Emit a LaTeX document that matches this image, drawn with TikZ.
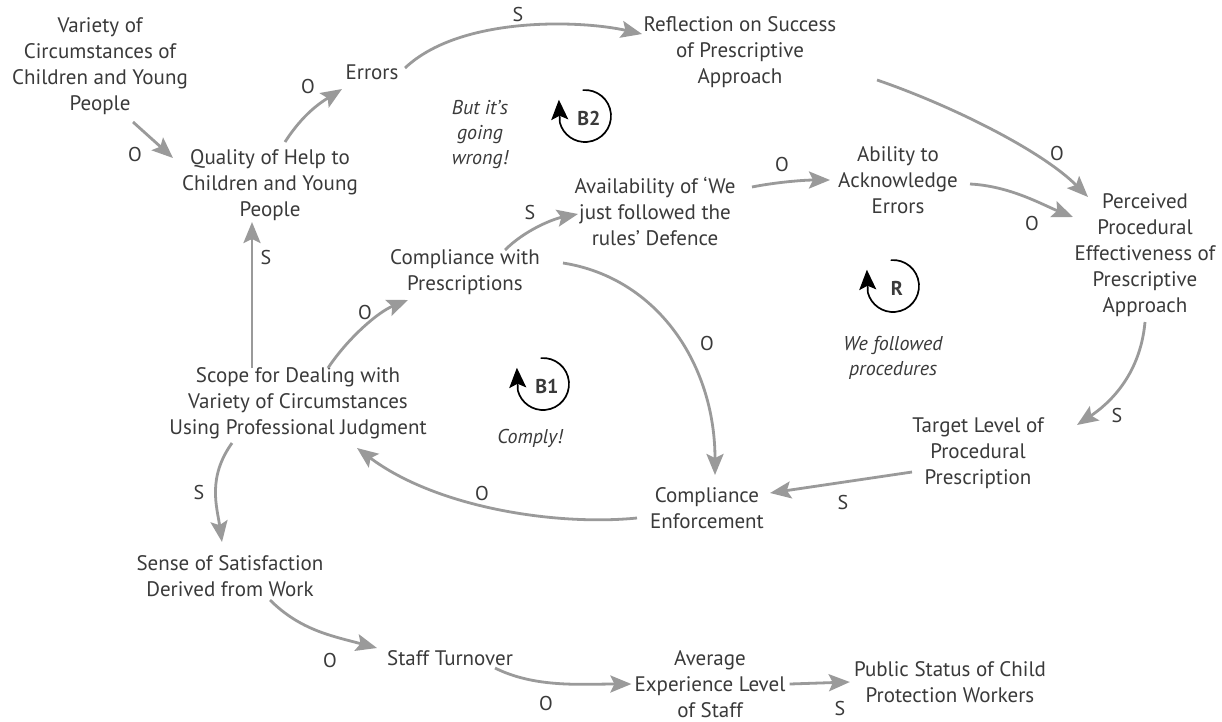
\documentclass[tikz,border=0pt]{standalone}
\usepackage{fontspec}
\setmainfont{PT Sans}
\usetikzlibrary{arrows.meta,calc}
\definecolor{txt}{HTML}{3A3A3A}
\definecolor{arrc}{HTML}{9A9A9A}
\begin{document}
\begin{tikzpicture}[x=1pt,y=-1pt,
  varbox/.style={align=center,text=txt,font=\fontsize{21}{26}\selectfont,inner sep=0pt},
  pol/.style={text=txt,font=\fontsize{20}{26}\selectfont,inner sep=0pt},
  note/.style={align=center,text=txt,font=\fontsize{20}{25}\selectfont\itshape,inner sep=0pt},
  conn/.style={draw=arrc,line width=2.8pt,-{Stealth[length=21pt,width=17pt,inset=4pt]}},
  loopsym/.style={draw=black,line width=1.7pt,-{Stealth[length=20pt,width=17pt,inset=4pt]}},
  looplab/.style={text=txt,font=\fontsize{20}{24}\selectfont\bfseries,inner sep=0pt}]
\useasboundingbox[fill=white] (0,0) rectangle (1222,721);

% variables
\node[varbox] (var) at (100,66) {Variety of\\Circumstances of\\Children and Young\\People};
\node[varbox] (qual) at (270,185) {Quality of Help to\\Children and Young\\People};
\node[varbox] (err) at (372,72) {Errors};
\node[varbox] (refl) at (740,52) {Reflection on Success\\of Prescriptive\\Approach};
\node[varbox] (avail) at (655,211) {Availability of `We\\just followed the\\rules' Defence};
\node[varbox] (abil) at (898,180) {Ability to\\Acknowledge\\Errors};
\node[varbox] (perc) at (1145,255) {Perceived\\Procedural\\Effectiveness of\\Prescriptive\\Approach};
\node[varbox] (comp) at (465,272) {Compliance with\\Prescriptions};
\node[varbox] (scope) at (298,403) {Scope for Dealing with\\Variety of Circumstances\\Using Professional Judgment};
\node[varbox] (target) at (978,453) {Target Level of\\Procedural\\Prescription};
\node[varbox] (enf) at (707,508) {Compliance\\Enforcement};
\node[varbox] (sat) at (230,576) {Sense of Satisfaction\\Derived from Work};
\node[varbox] (turn) at (450,658) {Staff Turnover};
\node[varbox] (avg) at (710,684) {Average\\Experience Level\\of Staff};
\node[varbox] (pub) at (950,682) {Public Status of Child\\Protection Workers};

% loop notes
\node[note] (nb2) at (480,135) {But it's\\going\\wrong!};
\node[note] (nb1) at (530,438) {Comply!};
\node[note] (nr) at (893,358) {We followed\\procedures};

% loop symbols
\coordinate (b2c) at (585,116);
\node[looplab] (b2) at (589,118) {B2};
\draw[loopsym] ($(b2c)+(-95:26)$) arc[start angle=-95,end angle=165,radius=26] -- ++(-1,-23);
\coordinate (b1c) at (543,384);
\node[looplab] (b1) at (547,386) {B1};
\draw[loopsym] ($(b1c)+(-95:26)$) arc[start angle=-95,end angle=165,radius=26] -- ++(-1,-23);
\coordinate (rc) at (893,286);
\node[looplab] (rr) at (897,288) {R};
\draw[loopsym] ($(rc)+(-95:26)$) arc[start angle=-95,end angle=165,radius=26] -- ++(-1,-23);

% connectors
\draw[conn] ($(var)+(33,56)$) -- ($(qual)+(-97,-27)$);
\draw[conn] ($(qual)+(15,-43)$) .. controls +(18,-28) and +(-22,14) .. ($(err)+(-30,17)$);
\draw[conn] ($(err)+(33,-4)$) .. controls +(55,-52) and +(-62,-14) .. ($(refl)+(-98,-18)$);
\draw[conn] ($(refl)+(137,28)$) .. controls +(73,25) and +(-47,-47) .. ($(perc)+(-57,-58)$);
\draw[conn] ($(abil)+(72,4)$) .. controls +(40,2) and +(-30,-12) .. ($(perc)+(-72,-38)$);
\draw[conn] ($(avail)+(97,-24)$) .. controls +(25,-5) and +(-25,0) .. ($(abil)+(-68,0)$);
\draw[conn] ($(comp)+(40,-22)$) .. controls +(20,-20) and +(-25,5) .. ($(avail)+(-77,3)$);
\draw[conn] ($(comp)+(98,-9)$) .. controls +(95,15) and +(0,-110) .. ($(enf)+(8,-33)$);
\draw[conn] ($(scope)+(30,-35)$) .. controls +(20,-30) and +(-30,12) .. ($(comp)+(-57,28)$);
\draw[conn] ($(scope)+(-46,-35)$) -- ($(qual)+(-18,37)$);
\draw[conn] ($(perc)+(0,67)$) .. controls +(-5,55) and +(30,-20) .. ($(target)+(99,-28)$);
\draw[conn] ($(target)+(-66,19)$) -- ($(enf)+(63,-15)$);
\draw[conn] ($(enf)+(-70,10)$) .. controls +(-80,8) and +(80,60) .. ($(scope)+(59,45)$);
\draw[conn] ($(scope)+(-66,40)$) .. controls +(-25,35) and +(-5,-35) .. ($(sat)+(-8,-34)$);
\draw[conn] ($(sat)+(40,24)$) .. controls +(30,30) and +(-45,-12) .. ($(turn)+(-73,-10)$);
\draw[conn] ($(turn)+(45,10)$) .. controls +(40,20) and +(-50,0) .. ([xshift=-3pt]avg.west);
\draw[conn] ([xshift=4pt]avg.east) -- ([xshift=-4pt]pub.west);

% polarity labels
\node[pol] (p1) at (135,154) {O};
\node[pol] (p2) at (308,86) {O};
\node[pol] (p3) at (518,14) {S};
\node[pol] (p4) at (1057,153) {O};
\node[pol] (p5) at (1032,223) {O};
\node[pol] (p6) at (782,164) {O};
\node[pol] (p7) at (530,212) {S};
\node[pol] (p8) at (707,343) {O};
\node[pol] (p9) at (365,312) {O};
\node[pol] (p10) at (266,257) {S};
\node[pol] (p11) at (1117,415) {S};
\node[pol] (p12) at (843,502) {S};
\node[pol] (p13) at (482,493) {O};
\node[pol] (p14) at (199,492) {S};
\node[pol] (p15) at (330,660) {O};
\node[pol] (p16) at (546,703) {O};
\node[pol] (p17) at (840,708) {S};
\end{tikzpicture}
\end{document}
